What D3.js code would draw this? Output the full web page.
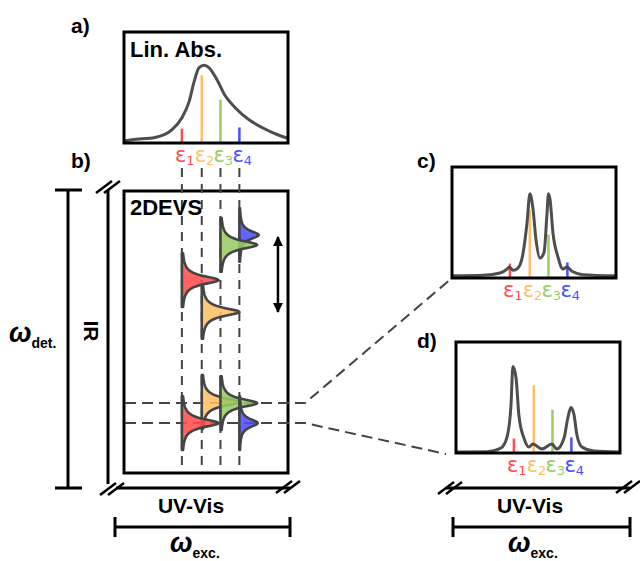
<!DOCTYPE html>
<html>
<head>
<meta charset="utf-8">
<script src="https://d3js.org/d3.v7.min.js"></script>
<style>
  body { margin: 0; background: #fff; }
  svg text { font-family: "Liberation Sans", Arial, sans-serif; }
  .lbl { font-weight: bold; }
  .eps { font-family: "DejaVu Sans", sans-serif; }
</style>
</head>
<body>
<svg id="fig" width="640" height="561"></svg>
<script>
// ---- data ----
var epsNames = ["1", "2", "3", "4"];
var epsColors = ["#ff4d4d", "#ffbf66", "#99cc66", "#4d4dff"];
var epsExc = [1.0, 2.03, 3.0, 3.98];          // excitation energies (a.u.)
var stickAmp = [0.13, 0.61, 0.39, 0.14];       // oscillator strengths

// linear absorption (panel a)
var linAbs = [[-1.95,0.02],[-1.59,0.03],[-0.39,0.05],[0.49,0.12],[1.01,0.23],[1.37,0.37],
  [1.63,0.55],[1.89,0.68],[2.15,0.70],[2.40,0.68],[2.82,0.57],[3.23,0.43],[3.75,0.32],
  [4.48,0.21],[5.15,0.14],[6.03,0.07],[6.45,0.045]];
// cut through 2DEVS at upper horizontal line (panel c)
var cutUpper = [[-1.95,0.02],[-0.39,0.025],[0.49,0.045],[0.85,0.08],[0.97,0.10],[1.16,0.07],
  [1.42,0.09],[1.68,0.22],[1.89,0.50],[2.04,0.76],[2.20,0.62],[2.35,0.35],[2.56,0.18],
  [2.77,0.23],[2.92,0.57],[3.00,0.76],[3.08,0.71],[3.23,0.41],[3.49,0.19],[3.75,0.08],
  [3.96,0.10],[4.22,0.06],[4.79,0.03],[6.45,0.02]];
// cut through 2DEVS at lower horizontal line (panel d)
var cutLower = [[-1.95,0.01],[-0.39,0.012],[0.33,0.045],[0.64,0.14],[0.85,0.43],[0.95,0.78],
  [1.11,0.68],[1.26,0.34],[1.52,0.135],[1.78,0.054],[1.99,0.08],[2.46,0.036],[2.97,0.08],
  [3.23,0.036],[3.60,0.135],[3.80,0.32],[3.96,0.41],[4.11,0.35],[4.27,0.16],[4.53,0.054],
  [5.15,0.018],[6.45,0.01]];

// 2DEVS peaks: which exciton, detection frequency, amplitude (drawn in this order)
var peakEps = [3, 1, 2, 0, 1, 2, 0, 3];
var peakDet = [84.4, 57.1, 80.9, 68.4, 25.2, 24.8, 17.7, 17.7];
var peakAmp = [1.0, 1.95, 1.9, 1.9, 1.95, 1.9, 1.9, 0.95];
var peakWidth = 1.75;
var peakExtent = 9.5;
var cutDet = [24.8, 17.7];
var arrowDet = [57.1, 83.7];
var arrowExc = 5.98;

var svg = d3.select("#fig");
var excDomain = [-2, 6.5];
var ink = "#444";

// ---- 1D spectrum panel ----
function spectrumPanel(x0, y0, label, curve) {
  var w = 164, h = 111;
  var x = d3.scaleLinear().domain(excDomain).range([x0, x0 + w]);
  var y = d3.scaleLinear().domain([0, 1]).range([y0 + h, y0]);
  var g = svg.append("g");
  g.append("rect").attr("x", x0).attr("y", y0).attr("width", w).attr("height", h)
    .attr("fill", "#fff");
  g.selectAll(".stick").data(epsExc).enter().append("line")
    .attr("x1", function(d) { return x(d); }).attr("x2", function(d) { return x(d); })
    .attr("y1", y(0)).attr("y2", function(d, i) { return y(stickAmp[i]); })
    .attr("stroke", function(d, i) { return epsColors[i]; }).attr("stroke-width", 2.5);
  g.append("path").datum(curve)
    .attr("d", d3.line().x(function(d) { return x(d[0]); }).y(function(d) { return y(d[1]); })
      .curve(d3.curveMonotoneX))
    .attr("fill", "none").attr("stroke", ink).attr("stroke-width", 3).attr("opacity", 0.95);
  g.append("rect").attr("x", x0).attr("y", y0).attr("width", w).attr("height", h)
    .attr("fill", "none").attr("stroke", "#000").attr("stroke-width", 3);
  var t = g.selectAll(".eps").data(epsExc).enter().append("text")
    .attr("class", "eps")
    .attr("x", function(d) { return x(d) - 7; }).attr("y", y0 + h + 19)
    .attr("fill", function(d, i) { return epsColors[i]; })
    .style("font-size", "21px");
  t.append("tspan").text("ε");
  t.append("tspan").attr("dy", 3).style("font-size", "13px").text(function(d, i) { return epsNames[i]; });
  if (label) {
    g.append("text").attr("class", "lbl").attr("x", x0 + 6).attr("y", y0 + 25)
      .style("font-size", "22px").text(label);
  }
  return x;
}

var xa = spectrumPanel(124, 32, "Lin. Abs.", linAbs);
var xc = spectrumPanel(452, 167, null, cutUpper);
var xd = spectrumPanel(456, 342, null, cutLower);

// ---- 2DEVS panel ----
var bx = d3.scaleLinear().domain(excDomain).range([124, 288]);
var by = d3.scaleLinear().domain([0, 100]).range([473, 191]);

svg.append("rect").attr("x", 124).attr("y", 191).attr("width", 164).attr("height", 282)
  .attr("fill", "#fff").attr("stroke", "#000").attr("stroke-width", 3);

svg.selectAll(".vdash").data(epsExc).enter().append("line")
  .attr("x1", function(d) { return bx(d); }).attr("x2", function(d) { return bx(d); })
  .attr("y1", 168).attr("y2", 472)
  .attr("stroke", ink).attr("stroke-width", 2).attr("stroke-dasharray", "9,7");

// horizontal cuts, leading off to panels c and d
var cutEnds = [[452, 278], [446, 454]];
svg.selectAll(".hdash").data(cutDet).enter().append("path")
  .attr("d", function(d, i) {
    return "M125," + by(d) + "L305," + by(d) + "L" + cutEnds[i][0] + "," + cutEnds[i][1];
  })
  .attr("fill", "none").attr("stroke", ink).attr("stroke-width", 2)
  .attr("stroke-dasharray", "11,6");

var pxPerExc = bx(1) - bx(0);
var peaks = peakEps.map(function(e, i) {
  return { e: e, det: peakDet[i], amp: peakAmp[i] };
});
svg.selectAll(".peak").data(peaks).enter().append("path")
  .attr("d", function(p) {
    var base = bx(epsExc[p.e]);
    var pts = d3.range(-peakExtent, peakExtent + 0.001, 0.25);
    return d3.area()
      .y(function(t) { return by(p.det + t); })
      .x0(base)
      .x1(function(t) { return base + p.amp * pxPerExc * peakWidth * peakWidth / (t * t + peakWidth * peakWidth); })
      .curve(d3.curveLinear)(pts);
  })
  .attr("fill", function(p) { return epsColors[p.e]; })
  .attr("fill-opacity", 0.88)
  .attr("stroke", ink).attr("stroke-width", 2.6).attr("stroke-linejoin", "round");

// double arrow
var defs = svg.append("defs");
["s", "e"].forEach(function(k) {
  defs.append("marker").attr("id", "ah" + k).attr("viewBox", "0 0 10 10")
    .attr("refX", 9).attr("refY", 5).attr("markerWidth", 4).attr("markerHeight", 4)
    .attr("orient", "auto-start-reverse")
    .append("path").attr("d", "M0,0L10,5L0,10Z").attr("fill", "#000");
});
svg.append("line").attr("x1", bx(arrowExc)).attr("x2", bx(arrowExc))
  .attr("y1", by(arrowDet[1])).attr("y2", by(arrowDet[0]))
  .attr("stroke", "#000").attr("stroke-width", 2.5)
  .attr("marker-start", "url(#ahs)").attr("marker-end", "url(#ahe)");

svg.append("text").attr("class", "lbl").attr("x", 130).attr("y", 215)
  .style("font-size", "22px").text("2DEVS");

// ---- axes frames with break marks ----
function line(x1, y1, x2, y2, w) {
  svg.append("line").attr("x1", x1).attr("y1", y1).attr("x2", x2).attr("y2", y2)
    .attr("stroke", "#000").attr("stroke-width", w || 3);
}
function brk(cx, cy) {
  [-4, 4].forEach(function(o) {
    line(cx + o - 8, cy + 6, cx + o + 8, cy - 6, 2.5);
  });
}
line(108, 190, 108, 484);
line(116, 488, 290, 488);
brk(108, 187); brk(112, 489); brk(288, 487);
line(446, 488, 630, 488);
brk(450, 488); brk(628, 487);

// measurement bars
line(68, 190, 68, 488); line(55, 190, 82, 190); line(55, 488, 82, 488);
line(115, 527, 290, 527); line(115, 517, 115, 537); line(290, 517, 290, 537);
line(453, 527, 630, 527); line(453, 517, 453, 537); line(630, 517, 630, 537);

function omega(x, y, sub) {
  var t = svg.append("text").attr("x", x).attr("y", y).attr("class", "lbl");
  t.append("tspan").style("font-size", "27px").style("font-style", "italic").text("ω");
  t.append("tspan").attr("dy", 6).style("font-size", "14px").text(sub);
}
omega(170, 552, "exc.");
omega(508, 552, "exc.");
omega(9, 342, "det.");

svg.append("text").attr("class", "lbl").attr("x", 191).attr("y", 513)
  .attr("text-anchor", "middle").style("font-size", "21px").text("UV-Vis");
svg.append("text").attr("class", "lbl").attr("x", 530).attr("y", 513)
  .attr("text-anchor", "middle").style("font-size", "21px").text("UV-Vis");
svg.append("text").attr("class", "lbl").attr("transform", "translate(84,331) rotate(90)")
  .attr("text-anchor", "middle").style("font-size", "21px").text("IR");

// panel letters
[["a)", 71, 33], ["b)", 71, 168], ["c)", 417, 168], ["d)", 417, 348]].forEach(function(l) {
  svg.append("text").attr("class", "lbl").attr("x", l[1]).attr("y", l[2])
    .style("font-size", "21px").text(l[0]);
});
</script>
</body>
</html>
